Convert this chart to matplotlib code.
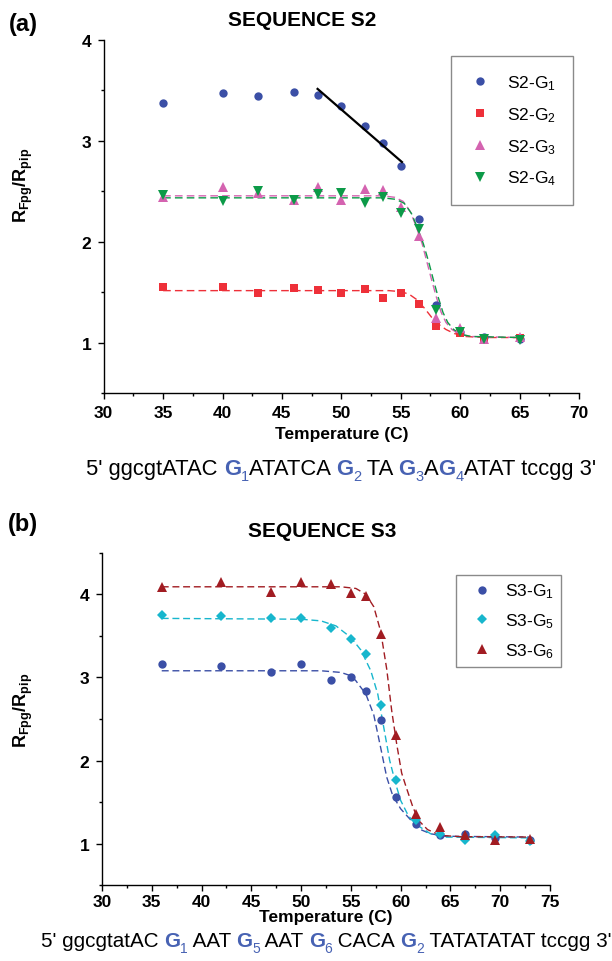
import matplotlib
matplotlib.use("Agg")
import matplotlib.pyplot as plt
from matplotlib.ticker import MultipleLocator

plt.rcParams.update({
    "font.family": ["Liberation Sans", "DejaVu Sans"],
    "mathtext.fontset": "custom",
    "mathtext.rm": "Liberation Sans",
    "mathtext.bf": "Liberation Sans:bold",
    "mathtext.it": "Liberation Sans:italic",
    "mathtext.default": "regular",
    "axes.linewidth": 1.0,
})

W, H = 612, 962

# ---- panel (a): sequence S2 ----
T_A = [35, 40, 43, 46, 48, 50, 52, 53.5, 55, 56.5, 58, 60, 62, 65]
S2_G1 = [3.38, 3.47, 3.44, 3.48, 3.45, 3.35, 3.15, 2.98, 2.75, 2.23, 1.37, 1.10, 1.06, 1.04]
S2_G2 = [1.555, 1.555, 1.49, 1.545, 1.525, 1.49, 1.53, 1.445, 1.49, 1.38, 1.16, 1.09, 1.04, 1.05]
S2_G3 = [2.445, 2.54, 2.48, 2.41, 2.545, 2.41, 2.52, 2.515, 2.34, 2.06, 1.24, 1.14, 1.04, 1.06]
S2_G4 = [2.46, 2.40, 2.50, 2.41, 2.47, 2.48, 2.38, 2.44, 2.28, 2.13, 1.32, 1.10, 1.04, 1.03]

# fitted (Boltzmann) curves
FIT_G2_T = [35, 54, 55, 55.7, 56.3, 57, 57.6, 58.2, 58.8, 59.5, 60.5, 62, 65]
FIT_G2_Y = [1.515, 1.515, 1.505, 1.48, 1.43, 1.34, 1.25, 1.18, 1.13, 1.09, 1.06, 1.05, 1.05]
FIT_G3_T = [35, 53.5, 54.5, 55.2, 55.8, 56.3, 56.8, 57.2, 57.6, 58.0, 58.4, 58.8, 59.3, 60, 61, 65]
FIT_G3_Y = [2.455, 2.455, 2.44, 2.40, 2.30, 2.15, 1.98, 1.80, 1.62, 1.45, 1.30, 1.20, 1.13, 1.08, 1.06, 1.05]
FIT_G4_T = [35, 53.5, 54.6, 55.3, 55.9, 56.4, 56.9, 57.35, 57.75, 58.15, 58.55, 58.95, 59.45, 60.1, 61, 65]
FIT_G4_Y = [2.435, 2.435, 2.42, 2.38, 2.28, 2.14, 1.98, 1.80, 1.62, 1.45, 1.30, 1.20, 1.13, 1.08, 1.06, 1.05]
# linear fit through the G1 decline
LIN_G1_T = [48.0, 55.1]
LIN_G1_Y = [3.515, 2.79]

# ---- panel (b): sequence S3 ----
T_B = [36, 42, 47, 50, 53, 55, 56.5, 58, 59.5, 61.5, 64, 66.5, 69.5, 73]
S3_G1 = [3.16, 3.14, 3.06, 3.16, 2.97, 3.00, 2.84, 2.49, 1.56, 1.24, 1.11, 1.12, 1.07, 1.04]
S3_G5 = [3.75, 3.74, 3.72, 3.72, 3.59, 3.46, 3.28, 2.67, 1.77, 1.28, 1.12, 1.05, 1.11, 1.03]
S3_G6 = [4.09, 4.15, 4.03, 4.15, 4.12, 4.015, 3.98, 3.52, 2.31, 1.36, 1.20, 1.11, 1.05, 1.06]

FIT_B1_T = [36, 52, 54, 55, 55.5, 56.5, 57.3, 58, 58.6, 59.2, 60, 61.2, 62, 63, 64.5, 73]
FIT_B1_Y = [3.08, 3.08, 3.06, 3.02, 2.96, 2.80, 2.55, 2.15, 1.80, 1.58, 1.42, 1.26, 1.17, 1.12, 1.09, 1.08]
FIT_B5_T = [36, 50, 52, 53.5, 55, 56, 57, 57.7, 58.3, 58.9, 59.5, 60, 60.8, 61.7, 63, 64.5, 73]
FIT_B5_Y = [3.71, 3.70, 3.68, 3.62, 3.48, 3.33, 3.08, 2.80, 2.40, 2.00, 1.72, 1.52, 1.33, 1.22, 1.12, 1.08, 1.07]
FIT_B6_T = [36, 54, 55.5, 56.5, 57.3, 58, 58.6, 59.1, 59.6, 60.1, 60.5, 61.2, 61.8, 62.7, 64, 66, 73]
FIT_B6_Y = [4.09, 4.09, 4.07, 4.00, 3.85, 3.55, 3.10, 2.60, 2.20, 1.85, 1.70, 1.45, 1.28, 1.17, 1.10, 1.085, 1.08]

SEQ_A = [("5' ggcgtATAC ", "n"), ("G", "g"), ("1", "s"), ("ATATCA ", "n"),
         ("G", "g"), ("2", "s"), (" TA ", "n"), ("G", "g"), ("3", "s"),
         ("A", "n"), ("G", "g"), ("4", "s"), ("ATAT tccgg 3'", "n")]
SEQ_B = [("5' ggcgtatAC ", "n"), ("G", "g"), ("1", "s"), (" AAT ", "n"),
         ("G", "g"), ("5", "s"), (" AAT ", "n"), ("G", "g"), ("6", "s"),
         (" CACA ", "n"), ("G", "g"), ("2", "s"), (" TATATATAT tccgg 3'", "n")]

BLUE = "#3b4fa6"
RED = "#ee3039"
PINK = "#d463b0"
GREEN = "#0c9a48"
CYAN = "#17b6cd"
DKRED = "#a11c22"
SEQ_BLUE = "#4762b3"


def fx(x):
    return x / W


def fy(y):
    return 1 - y / H


def style_axes(ax, xmax, labelpad_x):
    for s in ("top", "right"):
        ax.spines[s].set_visible(False)
    ax.xaxis.set_major_locator(MultipleLocator(5))
    ax.xaxis.set_minor_locator(MultipleLocator(2.5))
    ax.yaxis.set_major_locator(MultipleLocator(1))
    ax.yaxis.set_minor_locator(MultipleLocator(0.5))
    ax.tick_params(which="major", direction="out", length=4, width=1.0,
                   labelsize=12.5, top=False, right=False)
    ax.tick_params(which="minor", direction="out", length=2.5, width=1.0,
                   top=False, right=False)
    ax.tick_params(axis="y", pad=5)
    ax.tick_params(axis="x", pad=labelpad_x)
    for lab in ax.get_xticklabels() + ax.get_yticklabels():
        lab.set_fontweight("bold")
    ax.set_xlim(30, xmax)


def draw_sequence(fig, pieces, xc, ybase, size, sub_size, sub_drop):
    r = fig.canvas.get_renderer()
    styles = {"n": dict(fontsize=size, color="black"),
              "g": dict(fontsize=size, color=SEQ_BLUE, fontweight="bold"),
              "s": dict(fontsize=sub_size, color=SEQ_BLUE)}

    def width(s, st):
        t1 = fig.text(0, 0, "|" + s + "|", **st)
        t2 = fig.text(0, 0, "||", **st)
        w = t1.get_window_extent(r).width - t2.get_window_extent(r).width
        t1.remove()
        t2.remove()
        return w

    widths = [width(s, styles[k]) for s, k in pieces]
    x = xc - sum(widths) / 2
    for (s, k), w in zip(pieces, widths):
        yb = ybase + (sub_drop if k == "s" else 0)
        fig.text(fx(x), fy(yb), s, ha="left", va="baseline", **styles[k])
        x += w


fig = plt.figure(figsize=(W / 100, H / 100), dpi=100)

# ---------------- panel (a) ----------------
axa = fig.add_axes([fx(103.7), fy(394), (579 - 103.7) / W, (394 - 41) / H])
mk = dict(linestyle="none", markeredgewidth=0)
axa.plot(T_A, S2_G1, marker="o", markersize=6.0, color=BLUE, label=r"S2-G$_1$", zorder=4, **mk)
axa.plot(T_A, S2_G2, marker="s", markersize=5.2, color=RED, label=r"S2-G$_2$", zorder=4, **mk)
axa.plot(T_A, S2_G3, marker="^", markersize=7.2, color=PINK, label=r"S2-G$_3$", zorder=4, **mk)
axa.plot(T_A, S2_G4, marker="v", markersize=7.2, color=GREEN, label=r"S2-G$_4$", zorder=4, **mk)
dash_a = dict(linestyle=(0, (5.5, 3.0)), linewidth=1.0, zorder=3)
axa.plot(FIT_G2_T, FIT_G2_Y, color=RED, **dash_a)
axa.plot(FIT_G3_T, FIT_G3_Y, color=PINK, **dash_a)
axa.plot(FIT_G4_T, FIT_G4_Y, color=GREEN, **dash_a)
axa.plot(LIN_G1_T, LIN_G1_Y, color="black", linewidth=1.6, zorder=5)
style_axes(axa, 70, 5)
axa.set_ylim(0.5, 4)
axa.set_xlabel("Temperature (C)", fontsize=12.5, fontweight="bold", labelpad=4)
axa.set_ylabel(r"$\mathbf{R_{Fpg}/R_{pip}}$", fontsize=13)
axa.yaxis.set_label_coords((35 - 103.7) / (579 - 103.7), (394 - 185) / (394 - 41))
leg = axa.legend(loc="upper left", bbox_to_anchor=(fx(451.3), fy(56.7)),
                 bbox_transform=fig.transFigure, fontsize=12.5, numpoints=1,
                 borderaxespad=0, borderpad=1.0, handlelength=1.25,
                 handletextpad=0.93, labelspacing=0.76, fancybox=False,
                 framealpha=1, edgecolor="#8a8a8a")
leg.get_frame().set_linewidth(1.0)

fig.text(fx(302.5), fy(21), "SEQUENCE S2", ha="center", va="center",
         fontsize=15, fontweight="bold")
fig.text(fx(23), fy(25), "(a)", ha="center", va="center", fontsize=17,
         fontweight="bold")

# ---------------- panel (b) ----------------
axb = fig.add_axes([fx(102), fy(886.3), (550 - 102) / W, (886.3 - 553.7) / H])
axb.plot(T_B, S3_G1, marker="o", markersize=6.0, color=BLUE, label=r"S3-G$_1$", zorder=4, **mk)
axb.plot(T_B, S3_G5, marker="D", markersize=5.6, color=CYAN, label=r"S3-G$_5$", zorder=4, **mk)
axb.plot(T_B, S3_G6, marker="^", markersize=7.2, color=DKRED, label=r"S3-G$_6$", zorder=4, **mk)
dash_b = dict(linestyle=(0, (5.0, 2.7)), linewidth=1.0, zorder=3)
axb.plot(FIT_B1_T, FIT_B1_Y, color=BLUE, **dash_b)
axb.plot(FIT_B5_T, FIT_B5_Y, color=CYAN, **dash_b)
axb.plot(FIT_B6_T, FIT_B6_Y, color=DKRED, **dash_b)
style_axes(axb, 75, 2)
axb.set_ylim(0.5, 4.5)
axb.set_xlabel("Temperature (C)", fontsize=12.5, fontweight="bold", labelpad=0)
axb.set_ylabel(r"$\mathbf{R_{Fpg}/R_{pip}}$", fontsize=13)
axb.yaxis.set_label_coords((35 - 102) / (550 - 102), (886.3 - 710) / (886.3 - 553.7))
legb = axb.legend(loc="upper left", bbox_to_anchor=(fx(455.7), fy(575.7)),
                  bbox_transform=fig.transFigure, fontsize=12.5, numpoints=1,
                  borderaxespad=0, borderpad=0.4, handlelength=2.2,
                  handletextpad=0.25, labelspacing=0.63, fancybox=False,
                  framealpha=1, edgecolor="#8a8a8a")
legb.get_frame().set_linewidth(1.0)

fig.text(fx(322.5), fy(531.7), "SEQUENCE S3", ha="center", va="center",
         fontsize=15, fontweight="bold")
fig.text(fx(23), fy(525), "(b)", ha="center", va="center", fontsize=17,
         fontweight="bold")

draw_sequence(fig, SEQ_A, 341, 475, 15.8, 10.5, 6)
draw_sequence(fig, SEQ_B, 326, 947, 14.9, 10, 6)

fig.savefig("out.png", dpi=100)
